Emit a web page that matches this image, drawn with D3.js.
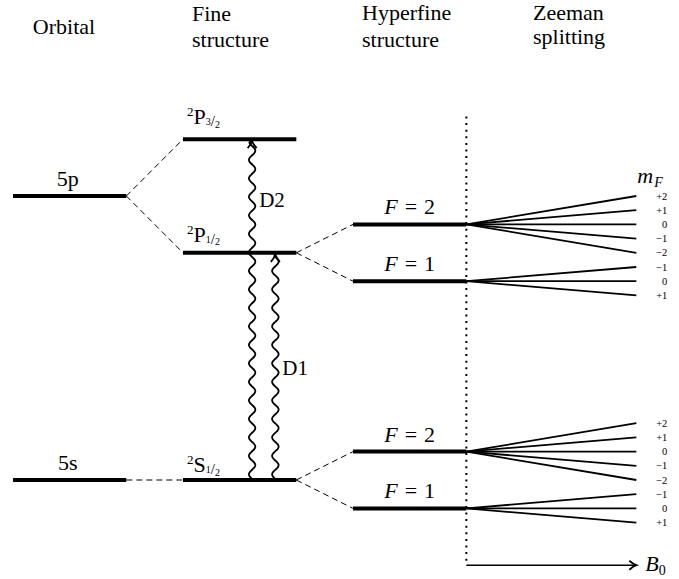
<!DOCTYPE html>
<html><head><meta charset="utf-8">
<script src="https://cdn.jsdelivr.net/npm/d3@7"></script>
<style>body{margin:0;background:#fff}</style>
</head><body>
<svg id="c" width="679" height="579"></svg>
<script>
// ---- data ----
const columnTitles = [["Orbital"], ["Fine", "structure"], ["Hyperfine", "structure"], ["Zeeman", "splitting"]];
const orbitalNames = ["5s", "5p"];
const orbitalEnergies = [0, 10];
const fineL = ["S", "P", "P"];
const fineJ = ["1", "1", "3"];
const fineEnergies = [0, 8, 12];
const fineParents = [0, 1, 1];
const hfParents = [0, 0, 1, 1];
const hfF = [2, 1, 2, 1];
const hfShift = [1, -1, 1, -1];
const mFValues = {2: [2, 1, 0, -1, -2], 1: [-1, 0, 1]};
const gFactor = {2: 1, 1: -1};
const zeemanUnit = 0.5;
const transitions = [{name: "D2", from: 0, to: 2, frac: 0.61}, {name: "D1", from: 0, to: 1, frac: 0.815}];

// ---- scales ----
const svg = d3.select("#c");
svg.append("rect").attr("width", 679).attr("height", 579).attr("fill", "#fff");
const y = d3.scaleLinear().domain([0, 10]).range([480, 196]);
const x = d3.scaleLinear().domain([0, 1]).range([13, 183]);
const W = 2 / 3;
const SERIF = '"Liberation Serif", "DejaVu Serif", serif';
const fmt = v => v > 0 ? "+" + v : v < 0 ? "\u2212" + (-v) : "0";
const txt = (sel) => sel.append("text").style("font-family", SERIF).attr("fill", "#000");

// ---- titles ----
const titleX = [null, x(1) + 9, x(2) + 9, x(3) + 10];
const titleY = [[21, 47], [21, 47], [20, 47], [19.5, 44]];
columnTitles.forEach((lines, i) => {
  lines.forEach((t, j) => {
    const tx = txt(svg).attr("font-size", 22).text(t);
    if (i === 0) tx.attr("x", x(0.3)).attr("y", 34).attr("text-anchor", "middle");
    else tx.attr("x", titleX[i]).attr("y", titleY[i][j]);
  });
});

// ---- dashed connectors ----
const dash = svg.append("g").attr("stroke", "#000").attr("stroke-width", 1)
  .attr("stroke-dasharray", "6,4").attr("fill", "none");
fineEnergies.forEach((e, i) => {
  dash.append("line").attr("x1", x(W)).attr("y1", y(orbitalEnergies[fineParents[i]]))
    .attr("x2", x(1)).attr("y2", y(e));
});
hfParents.forEach((p, i) => {
  dash.append("line").attr("x1", x(1 + W)).attr("y1", y(fineEnergies[p]))
    .attr("x2", x(2)).attr("y2", y(fineEnergies[p] + hfShift[i]));
});

// ---- dotted B axis ----
svg.append("line").attr("x1", x(2 + W)).attr("x2", x(2 + W))
  .attr("y1", y(12.8)).attr("y2", y(-3))
  .attr("stroke", "#000").attr("stroke-width", 2).attr("stroke-dasharray", "2,4.6");

// ---- Zeeman lines ----
const zg = svg.append("g").attr("stroke", "#000").attr("stroke-width", 1.8);
hfParents.forEach((p, i) => {
  const e0 = fineEnergies[p] + hfShift[i];
  const F = hfF[i];
  mFValues[F].forEach(m => {
    const e1 = e0 + gFactor[F] * m * zeemanUnit;
    zg.append("line").attr("x1", x(2 + W)).attr("y1", y(e0))
      .attr("x2", x(3 + W)).attr("y2", y(e1));
    txt(svg).attr("x", x(3 + W) + 31).attr("y", y(e1) + 3.5)
      .attr("text-anchor", "end").attr("font-size", 10.5).text(fmt(m));
  });
});
// m_F label
const mf = txt(svg).attr("x", x(3 + W) + 1).attr("y", 183);
mf.append("tspan").attr("font-size", 22).attr("font-style", "italic").text("m");
mf.append("tspan").attr("font-size", 14).attr("font-style", "italic").attr("dy", 4).attr("dx", 1).text("F");

// ---- level lines ----
const lv = svg.append("g").attr("stroke", "#000").attr("stroke-width", 4);
orbitalEnergies.forEach((e, i) => {
  lv.append("line").attr("x1", x(0)).attr("x2", x(W)).attr("y1", y(e)).attr("y2", y(e));
  txt(svg).attr("x", x(W / 2) - 2).attr("y", y(e) - 10.5)
    .attr("text-anchor", "middle").attr("font-size", 22).text(orbitalNames[i]);
});
const termOffsets = [8, 11, 15];
fineEnergies.forEach((e, i) => {
  lv.append("line").attr("x1", x(1)).attr("x2", x(1 + W)).attr("y1", y(e)).attr("y2", y(e));
  const t = txt(svg).attr("x", x(1) + 4).attr("y", y(e) - termOffsets[i]);
  t.append("tspan").attr("font-size", 13).attr("dy", -8).text("2");
  t.append("tspan").attr("font-size", 22).attr("dy", 8).text(fineL[i]);
  t.append("tspan").attr("font-size", 10).attr("dy", 1).text(fineJ[i]);
  t.append("tspan").attr("font-size", 15).attr("dy", 1).text("/");
  t.append("tspan").attr("font-size", 10).attr("dy", 1.5).text("2");
});
hfParents.forEach((p, i) => {
  const e = fineEnergies[p] + hfShift[i];
  lv.append("line").attr("x1", x(2)).attr("x2", x(2 + W)).attr("y1", y(e)).attr("y2", y(e));
  const t = txt(svg).attr("x", x(2 + W / 2)).attr("y", y(e) - 10)
    .attr("text-anchor", "middle").attr("font-size", 22);
  t.append("tspan").attr("font-style", "italic").text("F");
  t.append("tspan").attr("dx", 7).text("=");
  t.append("tspan").attr("dx", 7).text(hfF[i]);
});

// ---- wavy transitions ----
function arrowHead(g, tx, ty, dir) {
  const p = dir === "up"
    ? `M${tx - 4.5},${ty + 7} Q${tx - 1},${ty + 3} ${tx},${ty} Q${tx + 1},${ty + 3} ${tx + 4.5},${ty + 7}`
    : `M${tx - 7},${ty - 4.5} Q${tx - 3},${ty - 1} ${tx},${ty} Q${tx - 3},${ty + 1} ${tx - 7},${ty + 4.5}`;
  g.append("path").attr("d", p).attr("fill", "none").attr("stroke", "#000").attr("stroke-width", 1.8);
}
const wl = 18.5, amp = 3.3;
transitions.forEach(tr => {
  const cx = x(1 + tr.frac * W);
  const y0 = y(fineEnergies[tr.from]) - 1;
  const y1 = y(fineEnergies[tr.to]) + 3;
  const pts = d3.range(0, 1.0001, 0.004).map(f => {
    const yy = y0 + (y1 - y0) * f;
    return [cx + amp * Math.sin((yy - y0) / wl * 2 * Math.PI), yy];
  });
  pts.push([cx, y1 - 1]);
  svg.append("path").attr("d", d3.line().curve(d3.curveBasis)(pts))
    .attr("fill", "none").attr("stroke", "#000").attr("stroke-width", 1.8);
  arrowHead(svg, cx, y1 - 1, "up");
  const ly = tr.name === "D2" ? y((fineEnergies[1] + fineEnergies[2]) / 2) + 11 : y(3.7);
  txt(svg).attr("x", cx + 7).attr("y", ly).attr("font-size", 21).text(tr.name);
});

// ---- B0 axis ----
svg.append("line").attr("x1", x(2 + W)).attr("x2", x(3 + W)).attr("y1", y(-3)).attr("y2", y(-3))
  .attr("stroke", "#000").attr("stroke-width", 1.6);
arrowHead(svg, x(3 + W), y(-3), "right");
const b = txt(svg).attr("x", x(3 + W) + 9).attr("y", y(-3) + 6);
b.append("tspan").attr("font-size", 22).attr("font-style", "italic").text("B");
b.append("tspan").attr("font-size", 14).attr("dy", 4).text("0");
</script>
</body></html>
